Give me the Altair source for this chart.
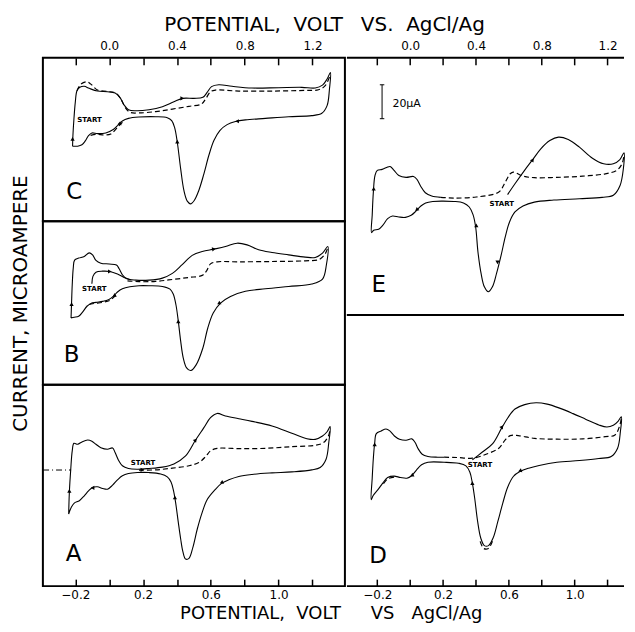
import altair as alt
import pandas as pd

FONT = "DejaVu Sans"

# ---------------- data: potential (V vs AgCl/Ag) and current (microampere) ----------------
TICK_V = [-0.2, 0.0, 0.2, 0.4, 0.6, 0.8, 1.0, 1.2]

# ---- panel C ----
C_solid_V = [-0.216, -0.214, -0.208, -0.2, -0.19, -0.173, -0.147, -0.118, -0.069, -0.01,
             0.035, 0.063, 0.088, 0.114, 0.157, 0.235, 0.314, 0.382, 0.435, 0.5,
             0.553, 0.578, 0.604, 0.647, 0.725, 0.843, 1.0, 1.137, 1.216, 1.259,
             1.286, 1.306, 1.3, 1.286, 1.255, 1.196, 1.059, 0.922, 0.804, 0.745,
             0.696, 0.653, 0.618, 0.588, 0.559, 0.529, 0.502, 0.48, 0.461, 0.441,
             0.422, 0.402, 0.386, 0.369, 0.343, 0.275, 0.176, 0.114, 0.078, 0.055,
             0.024, -0.02, -0.069, -0.102, -0.122, -0.141, -0.161, -0.186, -0.216]
C_solid_I = [-18.3, -12.1, -2.3, 7.5, 14.4, 16.4, 17.0, 15.8, 14.2, 13.8,
             13.0, 10.5, 6.0, 3.2, 2.6, 3.2, 5.0, 7.9, 9.9, 9.9,
             10.5, 13.4, 16.8, 17.9, 17.0, 16.0, 16.2, 16.4, 16.0, 17.7,
             21.3, 25.2, 15.4, 5.6, 1.1, -0.3, -0.9, -1.9, -2.8, -3.8,
             -5.6, -9.1, -15.0, -23.8, -34.6, -44.4, -50.3, -52.3, -50.7, -44.4,
             -31.7, -16.0, -7.2, -3.2, -1.5, -0.9, -1.1, -1.9, -3.4, -5.6,
             -8.5, -10.5, -10.9, -10.5, -12.1, -15.2, -17.5, -18.3, -18.3]
C_dash_V = [-0.19, -0.167, -0.133, -0.108, -0.069, -0.01, 0.039, 0.069, 0.094, 0.122,
            0.176, 0.275, 0.373, 0.471, 0.545, 0.569, 0.598, 0.627, 0.765, 0.961,
            1.157, 1.235, 1.275, 1.306]
C_dash_I = [14.4, 18.3, 19.7, 18.3, 14.8, 14.0, 13.0, 9.5, 4.6, 1.7,
            1.3, 2.1, 3.6, 5.2, 6.6, 9.5, 13.8, 14.8, 14.2, 14.2,
            14.6, 15.0, 17.4, 24.2]
C_dash2_V = [0.078, 0.049, 0.01, -0.029, -0.078, -0.122]
C_dash2_I = [-4.2, -7.2, -11.1, -11.7, -11.3, -12.3]
C_arrow_V = [-0.216, 0.431, 0.402, 0.755, 0.059]
C_arrow_I = [-14.0, 9.9, -15.6, -3.6, -5.2]
C_arrow_dir = [0, 90, 0, 270, 250]
C_start = (-0.116, -2.8)
C_letter = (-0.206, -45.6)

# ---- panel B ----
B_solid_V = [-0.225, -0.222, -0.218, -0.212, -0.204, -0.18, -0.147, -0.118, -0.098, -0.078,
             -0.049, 0.0, 0.043, 0.059, 0.078, 0.104, 0.157, 0.235, 0.314, 0.373,
             0.431, 0.49, 0.549, 0.618, 0.686, 0.755, 0.814, 0.882, 0.961, 1.059,
             1.157, 1.216, 1.259, 1.29, 1.282, 1.259, 1.196, 1.059, 0.922, 0.804,
             0.716, 0.657, 0.614, 0.582, 0.553, 0.514, 0.482, 0.457, 0.437, 0.422,
             0.408, 0.394, 0.378, 0.359, 0.314, 0.235, 0.176, 0.122, 0.078, 0.049,
             0.024, -0.004, -0.039, -0.078, -0.108, -0.131, -0.157, -0.18, -0.206, -0.225]
B_solid_I = [-19.4, -10.6, 0.2, 10.0, 14.7, 15.9, 16.9, 19.0, 17.8, 14.5,
             12.9, 12.4, 11.8, 9.6, 6.1, 3.7, 2.9, 2.9, 4.1, 6.9,
             12.0, 17.5, 19.8, 21.2, 22.7, 24.7, 23.7, 20.8, 19.2, 17.8,
             16.5, 16.3, 18.8, 22.7, 12.0, 3.5, 0.6, -0.8, -2.2, -3.7,
             -6.7, -10.6, -16.5, -25.3, -37.1, -46.9, -50.4, -48.8, -42.9, -33.1,
             -21.4, -11.6, -5.3, -2.4, -0.8, -0.4, -0.4, -1.0, -2.2, -4.1,
             -6.7, -8.6, -9.6, -10.2, -10.8, -12.5, -15.9, -18.4, -19.0, -19.4]
B_init_V = [-0.102, -0.096, -0.078, -0.039, 0.004, 0.049, 0.088, 0.127]
B_init_I = [0.8, 5.1, 7.6, 8.2, 8.0, 6.5, 4.5, 3.1]
B_dash_V = [0.108, 0.176, 0.275, 0.373, 0.471, 0.549, 0.575, 0.598, 0.637, 0.765,
            0.961, 1.157, 1.239, 1.275, 1.29]
B_dash_I = [2.5, 2.0, 2.2, 3.3, 4.5, 5.7, 8.4, 12.5, 13.7, 13.7,
            13.9, 14.3, 15.1, 18.4, 22.2]
B_dash2_V = [0.039, 0.004, -0.039, -0.098, -0.137]
B_dash2_I = [-6.1, -9.0, -10.2, -11.0, -12.0]
B_arrow_V = [-0.222, 0.004, 0.618, 0.647, 0.408, 0.029]
B_arrow_I = [-11.2, 8.0, 21.2, -10.8, -21.4, -6.3]
B_arrow_dir = [0, 90, 80, 240, 0, 240]
B_start = (-0.088, -2.4)
B_letter = (-0.222, -41.0)

# ---- panel A ----
A_solid_V = [-0.239, -0.235, -0.227, -0.218, -0.208, -0.186, -0.161, -0.127, -0.102, -0.078,
             -0.049, -0.01, 0.02, 0.035, 0.055, 0.078, 0.114, 0.167, 0.235, 0.314,
             0.382, 0.451, 0.51, 0.559, 0.598, 0.637, 0.686, 0.765, 0.843, 0.961,
             1.078, 1.167, 1.216, 1.259, 1.286, 1.304, 1.296, 1.28, 1.245, 1.196,
             1.078, 0.961, 0.843, 0.765, 0.706, 0.663, 0.624, 0.578, 0.549, 0.52,
             0.494, 0.471, 0.451, 0.435, 0.422, 0.408, 0.392, 0.38, 0.365, 0.343,
             0.304, 0.235, 0.167, 0.114, 0.078, 0.049, 0.02, -0.01, -0.039, -0.069,
             -0.098, -0.122, -0.147, -0.176, -0.206, -0.224, -0.239]
A_solid_I = [-26.0, -13.2, 0.1, 11.3, 15.8, 15.2, 16.6, 17.7, 17.0, 15.2,
             13.2, 12.3, 13.0, 10.3, 5.8, 2.5, 0.9, 0.5, 0.9, 1.7,
             3.6, 8.3, 17.7, 25.0, 30.9, 33.4, 31.9, 30.3, 28.7, 26.0,
             21.7, 18.5, 18.1, 20.1, 22.6, 25.6, 16.2, 6.4, 1.5, 0.1,
             -1.1, -1.7, -2.6, -3.8, -5.8, -7.9, -11.7, -17.5, -25.0, -34.8,
             -45.6, -52.1, -52.5, -48.1, -40.7, -30.9, -19.1, -12.3, -7.0, -4.0,
             -2.3, -1.5, -1.5, -2.1, -3.4, -5.8, -8.9, -11.3, -10.9, -9.9,
             -10.3, -12.3, -15.2, -18.1, -19.5, -22.1, -26.0]
A_dash_V = [0.176, 0.275, 0.373, 0.471, 0.529, 0.569, 0.598, 0.637, 0.765, 0.922,
            1.078, 1.216, 1.265, 1.294, 1.304]
A_dash_I = [0.0, 0.1, 1.1, 2.5, 4.4, 7.9, 11.3, 12.8, 12.6, 12.8,
            13.8, 14.6, 16.2, 20.1, 24.0]
A_zero_V = [-0.39, -0.225]
A_zero_I = [0.0, 0.0]
A_arrow_V = [-0.235, 0.51, 0.663, 0.388, -0.098, 0.196]
A_arrow_I = [-12.3, 17.7, -7.4, -16.2, -10.5, 0.1]
A_arrow_dir = [0, 40, 245, 0, 270, 90]
A_start = (0.2, 4.4)
A_letter = (-0.21, -49.5)

# ---- panel E ----
E_solid_V = [0.592, 0.637, 0.692, 0.745, 0.794, 0.849, 0.902, 0.961, 1.029, 1.108,
             1.176, 1.235, 1.275, 1.3, 1.296, 1.276, 1.235, 1.167, 1.029, 0.873,
             0.755, 0.686, 0.637, 0.604, 0.578, 0.553, 0.525, 0.5, 0.475, 0.451,
             0.431, 0.412, 0.398, 0.382, 0.359, 0.324, 0.265, 0.196, 0.137, 0.094,
             0.065, 0.035, 0.006, -0.029, -0.069, -0.108, -0.137, -0.167, -0.192, -0.222,
             -0.235, -0.231, -0.224, -0.214, -0.2, -0.171, -0.143, -0.122, -0.098, -0.069,
             -0.025, 0.02, 0.041, 0.063, 0.092, 0.131, 0.186]
E_solid_I = [2.2, 8.6, 16.1, 22.9, 29.2, 34.1, 36.1, 34.7, 30.2, 23.7,
             20.4, 20.4, 22.9, 26.9, 17.5, 7.6, 1.8, 0.6, -0.2, -1.0,
             -2.2, -4.5, -8.0, -13.9, -22.7, -33.5, -44.3, -52.2, -55.1, -52.2,
             -44.3, -31.6, -16.9, -9.6, -5.1, -2.7, -1.8, -1.6, -1.8, -2.7,
             -4.5, -7.5, -10.0, -11.2, -11.0, -10.4, -12.0, -15.9, -18.2, -18.8,
             -20.2, -10.0, 3.7, 13.5, 16.5, 17.1, 18.2, 18.8, 16.5, 13.5,
             12.4, 12.9, 11.2, 7.3, 3.3, 1.4, 0.6]
E_dash_V = [0.186, 0.265, 0.402, 0.539, 0.573, 0.608, 0.627, 0.686, 0.755, 0.892,
            1.049, 1.186, 1.255, 1.288, 1.3]
E_dash_I = [0.6, 0.2, 0.8, 3.7, 8.6, 14.5, 15.5, 13.1, 12.2, 12.4,
            13.1, 14.5, 16.5, 20.4, 25.7]
E_arrow_V = [-0.222, 0.745, 0.531, 0.402, 0.039]
E_arrow_I = [5.7, 22.7, -37.8, -15.9, -6.7]
E_arrow_dir = [0, 35, 180, 0, 230]
E_start = (0.557, -3.5)
E_letter = (-0.192, -51.2)
E_bar_V = -0.171
E_bar_I = (47.0, 67.0)
E_bar_label = (-0.108, 55.7)

# ---- panel D ----
D_solid_V = [0.378, 0.437, 0.5, 0.555, 0.594, 0.637, 0.696, 0.765, 0.833, 0.912,
             0.99, 1.069, 1.147, 1.196, 1.235, 1.265, 1.284, 1.278, 1.261, 1.222,
             1.147, 1.029, 0.892, 0.784, 0.72, 0.667, 0.627, 0.592, 0.563, 0.533,
             0.504, 0.476, 0.451, 0.429, 0.41, 0.392, 0.378, 0.363, 0.339, 0.294,
             0.206, 0.108, 0.069, 0.039, 0.01, -0.02, -0.059, -0.098, -0.137, -0.167,
             -0.196, -0.225, -0.237, -0.231, -0.224, -0.216, -0.206, -0.176, -0.147, -0.124,
             -0.096, -0.065, -0.025, 0.01, 0.029, 0.049, 0.073, 0.108, 0.167, 0.206]
D_solid_I = [-0.2, 4.3, 9.2, 18.4, 24.7, 29.8, 32.4, 33.5, 32.7, 30.2,
             27.1, 23.7, 20.4, 19.2, 20.2, 22.7, 25.3, 16.5, 6.7, 1.8,
             0.6, -0.6, -1.6, -3.5, -5.1, -7.1, -10.0, -16.5, -25.7, -36.5,
             -46.3, -50.8, -50.8, -46.3, -36.5, -22.7, -13.9, -7.5, -3.7, -2.2,
             -1.6, -1.6, -3.1, -6.1, -9.4, -11.0, -10.6, -9.8, -10.6, -13.9,
             -17.8, -21.2, -23.7, -11.0, 0.8, 9.6, 15.3, 16.9, 18.0, 16.9,
             13.9, 12.0, 11.4, 12.2, 10.2, 6.3, 3.1, 1.8, 1.4, 1.4]
D_dash_V = [0.206, 0.284, 0.378, 0.461, 0.539, 0.578, 0.608, 0.657, 0.755, 0.892,
            1.049, 1.186, 1.245, 1.275, 1.284]
D_dash_I = [1.4, 1.2, 0.8, 3.1, 6.7, 11.6, 14.1, 14.1, 12.5, 12.0,
            12.2, 13.5, 14.5, 20.4, 24.7]
D_dash2_V = [0.5, 0.475, 0.447, 0.425]
D_dash2_I = [-48.2, -52.5, -52.5, -48.2]
D_dash3_V = [-0.098, -0.137, -0.167]
D_dash3_I = [-10.4, -11.4, -14.9]
D_arrow_V = [-0.216, 0.559, 0.667, 0.378, 0.010]
D_arrow_I = [9.0, 19.4, -6.7, -13.9, -9.4]
D_arrow_dir = [0, 35, 250, 0, 240]
D_start = (0.424, -3.5)
D_letter = (-0.196, -57.0)

# ---------------- layout ----------------
W_L, W_R = 303, 278
H = {"C": 164, "B": 164, "A": 202, "E": 258, "D": 272}
XDOM_L = [-0.3912, 1.3912]
XDOM_R = [-0.3848, 1.3]
YDOM = {"C": [-62.6, 33.8], "B": [-58.8, 37.6], "A": [-68.5, 50.3],
        "E": [-68.8, 82.9], "D": [-74.7, 85.3]}

TITLE_L = "POTENTIAL,\u00a0 VOLT"
TITLE_R_TOP = "VS.\u00a0 AgCl/Ag"
TITLE_R_BOT = "VS\u00a0\u00a0 AgCl/Ag"


def curve(*segs):
    rows = []
    for s, (V, I) in enumerate(segs):
        n = min(len(V), len(I))
        for k in range(n):
            rows.append({"V": V[k], "I": I[k], "o": k, "seg": s})
    return pd.DataFrame(rows)


def x_axis(orient, title, title_x, title_align):
    if orient == "top":
        expr = "round(datum.value*10) % 4 == 0 ? format(datum.value, '.1f') : ''"
        ty, tfs, lpad = -34, 20, 5
    else:
        expr = "(round(datum.value*10) + 2) % 4 == 0 ? format(datum.value, '.1f') : ''"
        ty, tfs, lpad = 39, 18, 3
    return alt.Axis(orient=orient, values=TICK_V, labelExpr=expr, tickSize=7, offset=-7,
                    domain=False, grid=False, labelPadding=lpad, labelFont=FONT, labelFontSize=12,
                    labelColor="black", tickColor="black", tickWidth=1.5, labelFlush=False,
                    labelOverlap=False, title=title, titleFont=FONT, titleFontSize=tfs,
                    titleFontWeight="normal", titleColor="black", titleX=title_x, titleY=ty,
                    titleBaseline="alphabetic", titleAlign=title_align)


def panel(key, solid, dashed, arrows, start, letter, xdom, w, xaxis=None, yaxis=None,
          dashdot=None, framed=True, scalebar=None):
    h = H[key]
    xs = alt.Scale(domain=xdom, nice=False, zero=False)
    ys = alt.Scale(domain=YDOM[key], nice=False, zero=False)

    # the same axis definition is given to every layer, so that layers merge cleanly
    def X():
        return alt.X("V:Q", scale=xs, axis=xaxis)

    def Y():
        return alt.Y("I:Q", scale=ys, axis=yaxis)

    layers = []
    layers.append(alt.Chart(curve(*solid)).mark_line(
        color="black", strokeWidth=1.1, interpolate="catmull-rom").encode(
        x=X(), y=Y(), order="o:Q", detail="seg:N"))
    if dashed:
        layers.append(alt.Chart(curve(*dashed)).mark_line(
            color="black", strokeWidth=1.2, strokeDash=[5, 3], interpolate="catmull-rom").encode(
            x=X(), y=Y(), order="o:Q", detail="seg:N"))
    if dashdot:
        layers.append(alt.Chart(curve(*dashdot)).mark_line(
            color="black", strokeWidth=1, strokeDash=[6, 3, 1, 3]).encode(
            x=X(), y=Y(), order="o:Q", detail="seg:N"))
    av, ai, ad = arrows
    layers.append(alt.Chart(pd.DataFrame({"V": av, "I": ai, "ang": ad})).mark_point(
        shape="triangle-up", filled=True, size=18, color="black", opacity=1).encode(
        x=X(), y=Y(), angle=alt.Angle("ang:Q", scale=None)))
    layers.append(alt.Chart(pd.DataFrame({"V": [start[0]], "I": [start[1]], "t": ["START"]})).mark_text(
        font=FONT, fontSize=7, fontWeight="bold", color="black", align="center", baseline="middle").encode(
        x=X(), y=Y(), text="t:N"))
    layers.append(alt.Chart(pd.DataFrame({"V": [letter[0]], "I": [letter[1]], "t": [key]})).mark_text(
        font=FONT, fontSize=23, color="black", align="center", baseline="middle").encode(
        x=X(), y=Y(), text="t:N"))
    if scalebar:
        bv, (b1, b2), (lv, li), txt = scalebar
        layers.append(alt.Chart(pd.DataFrame({"V": [bv], "I": [b1], "I2": [b2]})).mark_rule(
            color="black", strokeWidth=1).encode(x=X(), y=Y(), y2="I2:Q"))
        layers.append(alt.Chart(pd.DataFrame({"V": [bv, bv], "I": [b1, b2]})).mark_point(
            shape="stroke", size=20, color="black", strokeWidth=1, opacity=1).encode(x=X(), y=Y()))
        layers.append(alt.Chart(pd.DataFrame({"V": [lv], "I": [li], "t": [txt]})).mark_text(
            font=FONT, fontSize=11, color="black", align="left", baseline="middle").encode(
            x=X(), y=Y(), text="t:N"))
    if not framed:
        one = pd.DataFrame({"k": [0]})
        for yy in (0, h):
            layers.append(alt.Chart(one).mark_rule(color="black", strokeWidth=2).encode(
                x=alt.value(0), x2=alt.value(w), y=alt.value(yy)))
    props = dict(width=w, height=h)
    if framed:
        props["view"] = alt.ViewBackground(stroke="black", strokeWidth=2, strokeOpacity=1)
    return alt.layer(*layers).properties(**props)


Y_TITLE = alt.Axis(orient="left", title="CURRENT, MICROAMPERE", labels=False, ticks=False,
                   domain=False, grid=False, titleFont=FONT, titleFontSize=20,
                   titleFontWeight="normal", titleColor="black", titleX=-16,
                   titleBaseline="alphabetic", titleAngle=270)

C = panel("C", [(C_solid_V, C_solid_I)], [(C_dash_V, C_dash_I), (C_dash2_V, C_dash2_I)],
          (C_arrow_V, C_arrow_I, C_arrow_dir), C_start, C_letter, XDOM_L, W_L,
          xaxis=x_axis("top", TITLE_L, 300.5, "right"))
B = panel("B", [(B_solid_V, B_solid_I), (B_init_V, B_init_I)],
          [(B_dash_V, B_dash_I), (B_dash2_V, B_dash2_I)],
          (B_arrow_V, B_arrow_I, B_arrow_dir), B_start, B_letter, XDOM_L, W_L,
          yaxis=Y_TITLE)
A = panel("A", [(A_solid_V, A_solid_I)], [(A_dash_V, A_dash_I)],
          (A_arrow_V, A_arrow_I, A_arrow_dir), A_start, A_letter, XDOM_L, W_L,
          xaxis=x_axis("bottom", TITLE_L, 298.5, "right"), dashdot=[(A_zero_V, A_zero_I)])
E = panel("E", [(E_solid_V, E_solid_I)], [(E_dash_V, E_dash_I)],
          (E_arrow_V, E_arrow_I, E_arrow_dir), E_start, E_letter, XDOM_R, W_R,
          xaxis=x_axis("top", TITLE_R_TOP, 13.5, "left"), framed=False,
          scalebar=(E_bar_V, E_bar_I, E_bar_label, "20\u00b5A"))
D = panel("D", [(D_solid_V, D_solid_I)],
          [(D_dash_V, D_dash_I), (D_dash2_V, D_dash2_I), (D_dash3_V, D_dash3_I)],
          (D_arrow_V, D_arrow_I, D_arrow_dir), D_start, D_letter, XDOM_R, W_R,
          xaxis=x_axis("bottom", TITLE_R_BOT, 23.5, "left"), framed=False)

left = alt.vconcat(C, B, A, spacing=0, bounds="flush")
right = alt.vconcat(E, D, spacing=0, bounds="flush")
chart = alt.hconcat(left, right, spacing=0).properties(
    padding={"left": 1, "top": 5, "right": 0, "bottom": 0}
).configure(font=FONT, background="white").configure_view(strokeOpacity=0)

chart.save("out.html", embed_options={"renderer": "svg", "actions": False})
